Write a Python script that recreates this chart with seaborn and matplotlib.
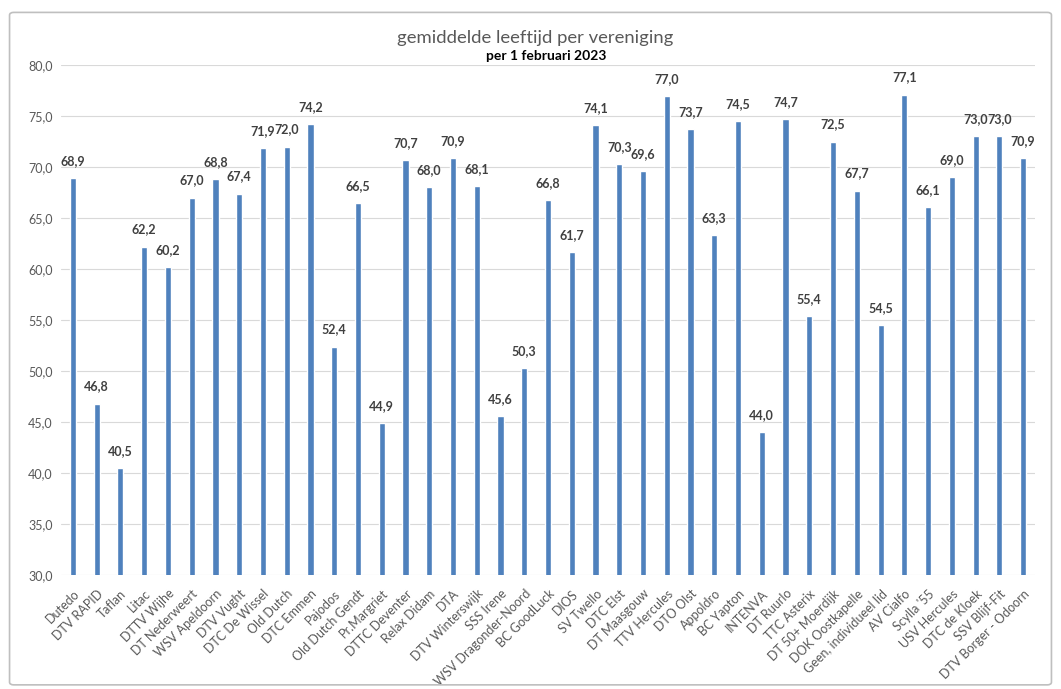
import matplotlib
matplotlib.use("Agg")
import matplotlib.pyplot as plt
import seaborn as sns
import pandas as pd
from matplotlib.patches import FancyBboxPatch

categories = ["Dutedo", "DTV RAPID", "Taflan", "Litac", "DTTV Wijhe", "DT Nederweert",
              "WSV Apeldoorn", "DTV Vught", "DTC De Wissel", "Old Dutch", "DTC Emmen",
              "Pajodos", "Old Dutch Gendt", "Pr.Margriet", "DTTC Deventer", "Relax Didam",
              "DTA", "DTV Winterswijk", "SSS Irene", "WSV Dragonder-Noord", "BC GoodLuck",
              "DIOS", "SV Twello", "DTC Elst", "DT Maasgouw", "TTV Hercules", "DTO Olst",
              "Appoldro", "BC Yapton", "INTENVA", "DT Ruurlo", "TTC Asterix",
              "DT 50+ Moerdijk", "DOK Oostkapelle", "Geen, individueel lid", "AV Cialfo",
              "Scylla '55", "USV Hercules", "DTC de Kloek", "SSV Blijf-Fit",
              "DTV Borger - Odoorn"]
values = [68.9, 46.8, 40.5, 62.2, 60.2, 67.0, 68.8, 67.4, 71.9, 72.0, 74.2, 52.4,
          66.5, 44.9, 70.7, 68.0, 70.9, 68.1, 45.6, 50.3, 66.8, 61.7, 74.1, 70.3,
          69.6, 77.0, 73.7, 63.3, 74.5, 44.0, 74.7, 55.4, 72.5, 67.7, 54.5, 77.1,
          66.1, 69.0, 73.0, 73.0, 70.9]
y_ticks = [30, 35, 40, 45, 50, 55, 60, 65, 70, 75, 80]

sns.set_theme(style="white")
plt.rcParams['font.family'] = ['Lato', 'DejaVu Sans']

df = pd.DataFrame({"vereniging": categories, "leeftijd": values})

fig = plt.figure(figsize=(10.61, 6.89), dpi=100)
ax = fig.add_axes([0.0575, 0.1655, 0.918, 0.740])

sns.barplot(data=df, x="vereniging", y="leeftijd", color="#4f81bd", saturation=1,
            width=0.26, ax=ax, zorder=3)

ax.set_ylim(30, 80)
ax.set_yticks(y_ticks)
ax.set_yticklabels([f"{t:.1f}".replace(".", ",") for t in y_ticks], color="#595959", fontsize=9)
ax.set_xlim(-0.5, len(categories) - 0.5)
ax.set_xticks(range(len(categories)))
ax.set_xticklabels(categories, rotation=45, ha="right", rotation_mode="anchor",
                   color="#595959", fontsize=9)
ax.tick_params(axis="y", length=0, pad=6)
ax.tick_params(axis="x", length=0, pad=9)
ax.grid(axis="y", color="#d9d9d9", linewidth=0.8, zorder=0)
for s in ax.spines.values():
    s.set_visible(False)
ax.set_xlabel("")
ax.set_ylabel("")

ax.bar_label(ax.containers[0], labels=[f"{v:.1f}".replace(".", ",") for v in values],
             padding=8, fontsize=9, color="#404040", fontweight="bold")

fig.text(0.504, 0.945, "gemiddelde leeftijd per vereniging", ha="center", va="center",
         fontsize=13.3, color="#595959")
fig.text(0.515, 0.918, "per 1 februari 2023", ha="center", va="center",
         fontsize=10, color="black", fontweight="bold")

border = FancyBboxPatch((0.009, 0.006), 0.982, 0.976, boxstyle="round,pad=0,rounding_size=0.004",
                        transform=fig.transFigure, fill=False, edgecolor="#bfbfbf", linewidth=1.2)
fig.patches.append(border)

fig.savefig("out.png", dpi=100)
